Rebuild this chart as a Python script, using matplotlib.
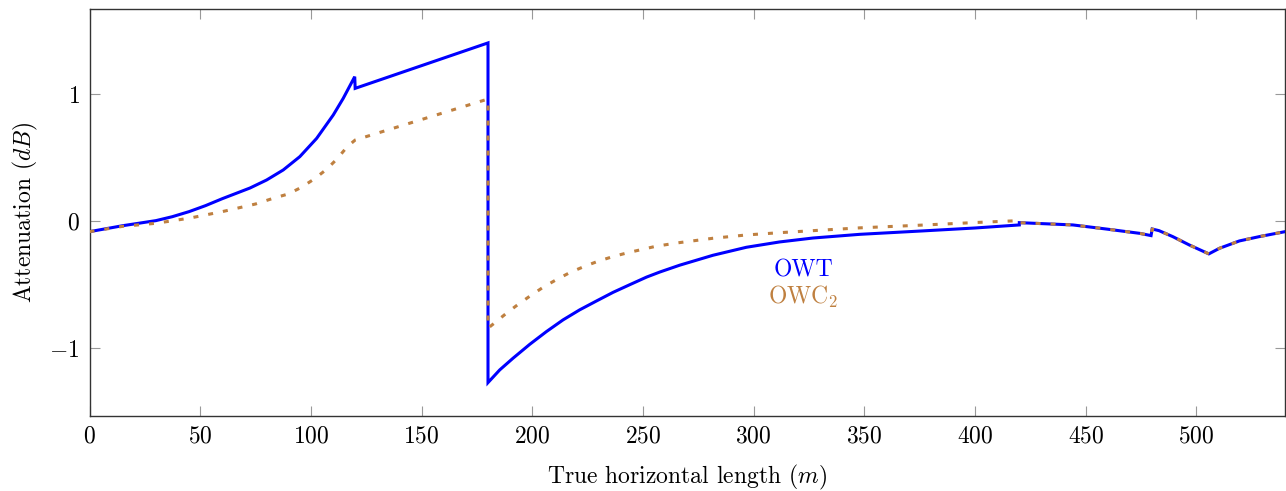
import matplotlib
matplotlib.use("Agg")
import matplotlib.pyplot as plt

plt.rcParams['font.family'] = 'serif'
plt.rcParams['font.serif'] = ['cmr10', 'DejaVu Serif']
plt.rcParams['mathtext.fontset'] = 'cm'
plt.rcParams['axes.formatter.use_mathtext'] = True
plt.rcParams['lines.scale_dashes'] = False

# OWT (blue, solid) before the shared tail
owt_x = [0, 15, 30, 37.4, 45, 52.4, 60, 67, 72.5, 80, 87.5, 95, 102.6, 110.1, 114.6, 119.8,
         120, 180, 180, 185.3, 191.3, 198.9, 206.4, 213.9, 221.4, 229, 236.5, 244, 251.6,
         257.6, 266.6, 281.6, 296.7, 311.7, 326.8, 347.9, 376.4, 400, 420]
owt_y = [-0.082, -0.035, 0.005, 0.036, 0.076, 0.123, 0.178, 0.225, 0.262, 0.325, 0.404,
         0.509, 0.653, 0.837, 0.968, 1.139, 1.047, 1.405, -1.271, -1.171, -1.079, -0.969,
         -0.869, -0.777, -0.698, -0.628, -0.56, -0.5, -0.44, -0.40, -0.346, -0.268, -0.205,
         -0.163, -0.132, -0.103, -0.076, -0.053, -0.029]

# OWC2 (brown, dashed) before the shared tail
owc_x = [0, 15, 30, 45, 60, 75, 83, 89.8, 95.8, 101.5, 107.1, 111.9, 116.4, 120, 180, 180,
         188.3, 193.6, 198.9, 204.9, 210.9, 216.9, 223.6, 229.7, 236.5, 243.3, 250.1, 256.1,
         266.6, 281.6, 296.7, 311.7, 326.8, 347.9, 376.4, 400, 420]
owc_y = [-0.082, -0.04, -0.016, 0.024, 0.076, 0.136, 0.181, 0.215, 0.268, 0.333, 0.409,
         0.493, 0.587, 0.64, 0.963, -0.843, -0.725, -0.655, -0.59, -0.52, -0.46, -0.405,
         -0.355, -0.315, -0.278, -0.247, -0.22, -0.196, -0.168, -0.134, -0.108, -0.09,
         -0.074, -0.052, -0.03, -0.01, 0.005]

# shared tail (both curves coincide after x = 420)
tail_x = [420, 444.2, 459.2, 474.3, 479.5, 480, 483.1, 489.3, 496.8, 505.6, 510.4, 519.4,
          528.4, 540]
tail_y = [-0.011, -0.029, -0.061, -0.095, -0.113, -0.061, -0.074, -0.121, -0.187, -0.257,
          -0.213, -0.155, -0.121, -0.082]

x_ticks = [0, 50, 100, 150, 200, 250, 300, 350, 400, 450, 500]
y_ticks = [-1, 0, 1]

BLUE = '#0000FF'
BROWN = '#BF8040'

fig = plt.figure(figsize=(12.86, 4.91), dpi=100)
ax = fig.add_axes([89.5 / 1286, 1 - 415.6 / 491, (1285 - 89.5) / 1286, (415.6 - 9.4) / 491])

ax.plot(owt_x + tail_x, owt_y + tail_y, color=BLUE, lw=2.2, solid_joinstyle='miter', zorder=3)
ax.plot(owc_x + tail_x, owc_y + tail_y, color=BROWN, lw=2.2, dashes=(3.6, 7.2), zorder=4)

ax.set_xlim(0, 540)
ax.set_ylim(-1.531, 1.669)
ax.set_xticks(x_ticks)
ax.set_yticks(y_ticks)
ax.tick_params(direction='in', top=True, right=True, length=7.5, width=0.8,
               color='#999999', labelsize=17, pad=7)
for s in ax.spines.values():
    s.set_color('#333333')
    s.set_linewidth(1.0)

ax.set_xlabel('True horizontal length ($m$)', fontsize=17, labelpad=11)
ax.set_ylabel('Attenuation ($dB$)', fontsize=17, labelpad=7)

ax.text(322.3, -0.385, 'OWT', color=BLUE, fontsize=17, ha='center', va='center')
ax.text(322.3, -0.6, 'OWC$_2$', color=BROWN, fontsize=17, ha='center', va='center')

fig.savefig('out.png', dpi=100)
